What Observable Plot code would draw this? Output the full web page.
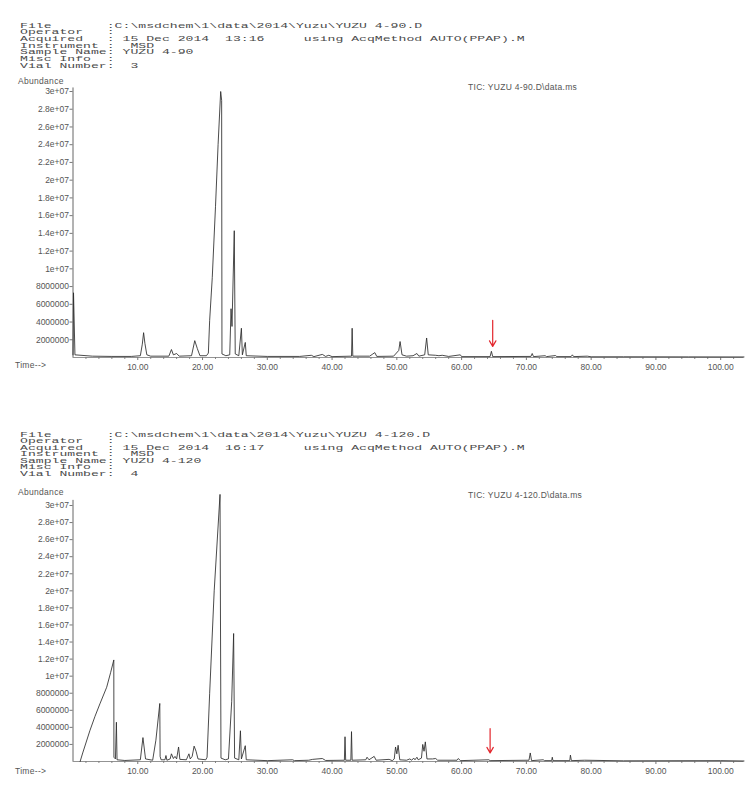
<!DOCTYPE html>
<html>
<head>
<meta charset="utf-8">
<script src="https://cdn.jsdelivr.net/npm/d3@7"></script>
<script src="https://cdn.jsdelivr.net/npm/@observablehq/plot@0.6"></script>
<style>
  body { margin: 0; background: #fff; }
  #page { position: relative; width: 756px; height: 788px; overflow: hidden; background: #fff; }
  .hdr { position: absolute; left: 20px; font-family: "Liberation Mono", "DejaVu Sans Mono", monospace; font-size: 9px; line-height: 9px; height: 9px; color: #4a4a4a; white-space: pre; transform: scale(1.46, 0.72); transform-origin: 0 0; }
  .lbl { position: absolute; font-family: "Liberation Sans", Arial, sans-serif; font-size: 8.5px; line-height: 8px; height: 8px; color: #555; white-space: pre; letter-spacing: 0.3px; }
  .plotbox { position: absolute; left: 0; }
</style>
</head>
<body>
<div id="page"></div>
<script>
// ---------- header texts ----------
const header90 = [
  "File       :C:\\msdchem\\1\\data\\2014\\Yuzu\\YUZU 4-90.D",
  "Operator   :",
  "Acquired   : 15 Dec 2014  13:16     using AcqMethod AUTO(PPAP).M",
  "Instrument :  MSD",
  "Sample Name: YUZU 4-90",
  "Misc Info  :",
  "Vial Number:  3"
];
const header120 = [
  "File       :C:\\msdchem\\1\\data\\2014\\Yuzu\\YUZU 4-120.D",
  "Operator   :",
  "Acquired   : 15 Dec 2014  16:17     using AcqMethod AUTO(PPAP).M",
  "Instrument :  MSD",
  "Sample Name: YUZU 4-120",
  "Misc Info  :",
  "Vial Number:  4"
];
const ticTitles = ["TIC: YUZU 4-90.D\\data.ms", "TIC: YUZU 4-120.D\\data.ms"];

// ---------- axis ticks ----------
const yTickValues = [2, 4, 6, 8, 10, 12, 14, 16, 18, 20, 22, 24, 26, 28, 30]; // millions
const yTickLabels = ["2000000", "4000000", "6000000", "8000000", "1e+07", "1.2e+07", "1.4e+07", "1.6e+07", "1.8e+07", "2e+07", "2.2e+07", "2.4e+07", "2.6e+07", "2.8e+07", "3e+07"];
const xTickValues = [10, 20, 30, 40, 50, 60, 70, 80, 90, 100];
const xTickLabels = ["10.00", "20.00", "30.00", "40.00", "50.00", "60.00", "70.00", "80.00", "90.00", "100.00"];
const xMinorTicks = [2,4,6,8,12,14,16,18,22,24,26,28,32,34,36,38,42,44,46,48,52,54,56,58,62,64,66,68,72,74,76,78,82,84,86,88,92,94,96,98,102];

// ---------- traces: [time (min), abundance (millions)] ----------
const trace90 = [
  [0.0,0.3],[0.08,7.3],[0.3,0.3],[3,0.15],[6,0.12],[9,0.12],[10.4,0.2],[10.7,1.5],[10.9,2.8],[11.1,1.6],[11.4,0.3],
  [12,0.15],[14.8,0.15],[15.2,0.9],[15.5,0.3],[16.0,0.45],[16.4,0.15],[18.3,0.2],[18.8,1.9],[19.2,1.0],[19.6,0.2],
  [20.6,0.2],[20.9,0.5],[21.1,4.2],[21.5,9],[22.0,17],[22.4,24],[22.8,30],[22.95,29],[23.0,0.4],[23.6,0.2],
  [24.2,0.3],[24.4,5.5],[24.55,3.5],[24.9,14.3],[25.05,0.4],[25.6,0.2],[26.0,3.3],[26.15,0.3],[26.6,1.7],[26.75,0.2],
  [30,0.12],[35,0.12],[36.8,0.25],[37.2,0.1],[38.5,0.35],[39,0.12],[39.5,0.25],[40,0.1],[43.0,0.15],[43.1,3.3],[43.2,0.15],
  [45.8,0.15],[46.2,0.35],[46.6,0.55],[46.9,0.12],[49.5,0.15],[50.3,0.8],[50.5,1.8],[50.8,0.3],[51.5,0.15],[52.5,0.2],
  [53.1,0.45],[53.4,0.15],[54.3,0.3],[54.6,2.2],[54.85,0.3],[56,0.25],[56.5,0.2],[57,0.25],[58,0.12],[59.8,0.3],[60,0.1],
  [64.4,0.1],[64.6,0.7],[64.8,0.1],[70.7,0.12],[70.9,0.45],[71.1,0.1],[72.9,0.2],[73.1,0.1],[74.5,0.22],[74.7,0.1],
  [76.9,0.1],[77.1,0.3],[77.3,0.1],[79.4,0.15],[80,0.08],[85,0.08],[95,0.07],[103.6,0.06]
];
const trace120 = [
  [1.1,0],[1.5,1.0],[2.6,3.6],[3.4,5.3],[4.15,6.75],[5.2,8.7],[5.8,10.4],[6.3,11.9],[6.32,0.5],[6.55,0.3],[6.7,4.6],[6.8,0.2],
  [8,0.12],[10.4,0.2],[10.8,2.8],[11.2,0.3],[12.3,0.15],[12.8,2.5],[13.4,6.8],[13.45,0.6],[13.6,0.2],[14.2,0.2],[14.35,0.7],
  [14.5,0.15],[15.0,0.3],[15.2,0.9],[15.5,0.35],[15.75,0.6],[16.0,0.3],[16.3,1.7],[16.5,0.25],[17.5,0.2],[17.9,0.9],[18.1,0.3],
  [18.4,0.6],[18.7,1.8],[19.0,1.2],[19.3,0.3],[20.5,0.2],[20.7,0.5],[21.1,8],[21.8,20],[22.7,31.3],[22.85,0.4],[23.5,0.2],
  [24.0,0.3],[24.5,7],[24.8,15],[24.95,0.4],[25.6,0.2],[25.85,3.6],[26.0,0.3],[26.6,1.85],[26.75,0.2],[30,0.1],[33.9,0.2],
  [34.2,0.1],[36.4,0.15],[37,0.25],[38.5,0.35],[39,0.12],[41.9,0.15],[42.0,2.9],[42.1,0.15],[42.9,0.15],[43.0,3.5],[43.1,0.15],
  [45.2,0.2],[45.4,0.5],[45.7,0.2],[46.5,0.6],[46.8,0.15],[48.8,0.25],[49.3,0.1],[49.6,0.3],[49.8,1.7],[50.0,0.9],[50.2,1.9],
  [50.45,0.2],[51.5,0.15],[52.0,0.3],[52.3,0.15],[52.6,0.4],[52.8,0.2],[53.1,0.5],[53.3,0.2],[53.8,0.4],[54.0,2.0],[54.2,1.2],
  [54.4,2.3],[54.65,0.3],[55.5,0.3],[56,0.35],[56.3,0.15],[59.3,0.15],[59.5,0.35],[59.8,0.1],[64.2,0.2],[64.4,0.1],[70.4,0.15],
  [70.6,1.0],[70.8,0.1],[72.6,0.2],[72.8,0.1],[73.9,0.1],[74.0,0.5],[74.1,0.1],[76.7,0.1],[76.8,0.75],[76.95,0.1],[79,0.15],
  [85,0.08],[100,0.1],[103.6,0.06]
];

// red arrows (time, start abundance, end abundance) per panel
const arrowTimes = [64.8, 64.4];
const arrowFrom = [4.2, 3.85];
const arrowTo = [1.25, 1.0];

// ---------- layout ----------
const page = document.getElementById("page");
function addDiv(cls, text, left, top) {
  const d = document.createElement("div");
  d.className = cls;
  d.textContent = text;
  d.style.top = top + "px";
  if (left != null) d.style.left = left + "px";
  page.appendChild(d);
  return d;
}

const panels = [
  {header: header90, hdrTop: 23.5, hdrStep: 6.7, svgTop: 80, height: 300, mt: 11, mb: 23, yMax: 30.4, trace: trace90, ab: 77, tic: 83, time: 361},
  {header: header120, hdrTop: 432.5, hdrStep: 6.5, svgTop: 490, height: 294, mt: 15, mb: 23, yMax: 30.6, trace: trace120, ab: 488, tic: 491, time: 767}
];

panels.forEach((p, k) => {
  p.header.forEach((line, i) => addDiv("hdr", line, null, p.hdrTop + i * p.hdrStep));
  addDiv("lbl", "Abundance", 18, p.ab);
  addDiv("lbl", ticTitles[k], 468, p.tic);
  addDiv("lbl", "Time-->", 15, p.time);

  const pts = p.trace.map(([t, a]) => ({t, a}));
  const chart = Plot.plot({
    width: 756,
    height: p.height,
    marginLeft: 72.5,
    marginRight: 12.5,
    marginTop: p.mt,
    marginBottom: p.mb,
    x: {domain: [0, 103.6]},
    y: {domain: [0, 30]},
    style: {fontFamily: "Liberation Sans, Arial, sans-serif", fontSize: "8.5px", color: "#555", background: "transparent", overflow: "visible"},
    marks: [
      Plot.axisY({ticks: yTickValues, tickFormat: d => yTickLabels[yTickValues.indexOf(d)], tickSize: 3, tickPadding: 1, label: null, stroke: "#777", fill: "#555", letterSpacing: 0.5}),
      Plot.axisX({ticks: xMinorTicks, tickFormat: () => "", tickSize: 2, label: null, stroke: "#888"}),
      Plot.axisX({ticks: xTickValues, tickFormat: d => xTickLabels[xTickValues.indexOf(d)], tickSize: 3, tickPadding: 3, label: null, stroke: "#777", fill: "#555", letterSpacing: 0.6}),
      Plot.ruleX([0], {y1: 0, y2: p.yMax, stroke: "#555", strokeWidth: 0.9}),
      Plot.ruleY([0], {x1: 0, x2: 103.6, stroke: "#777", strokeWidth: 0.8}),
      Plot.line(pts, {x: "t", y: "a", stroke: "#2a2a2a", strokeWidth: 0.85, curve: "linear"}),
      Plot.arrow([k], {x1: i => arrowTimes[i], x2: i => arrowTimes[i], y1: i => arrowFrom[i], y2: i => arrowTo[i], stroke: "#e3262d", strokeWidth: 1.2, headLength: 8})
    ]
  });
  chart.classList.add("plotbox");
  chart.style.top = p.svgTop + "px";
  chart.style.position = "absolute";
  page.appendChild(chart);
});
</script>
</body>
</html>
